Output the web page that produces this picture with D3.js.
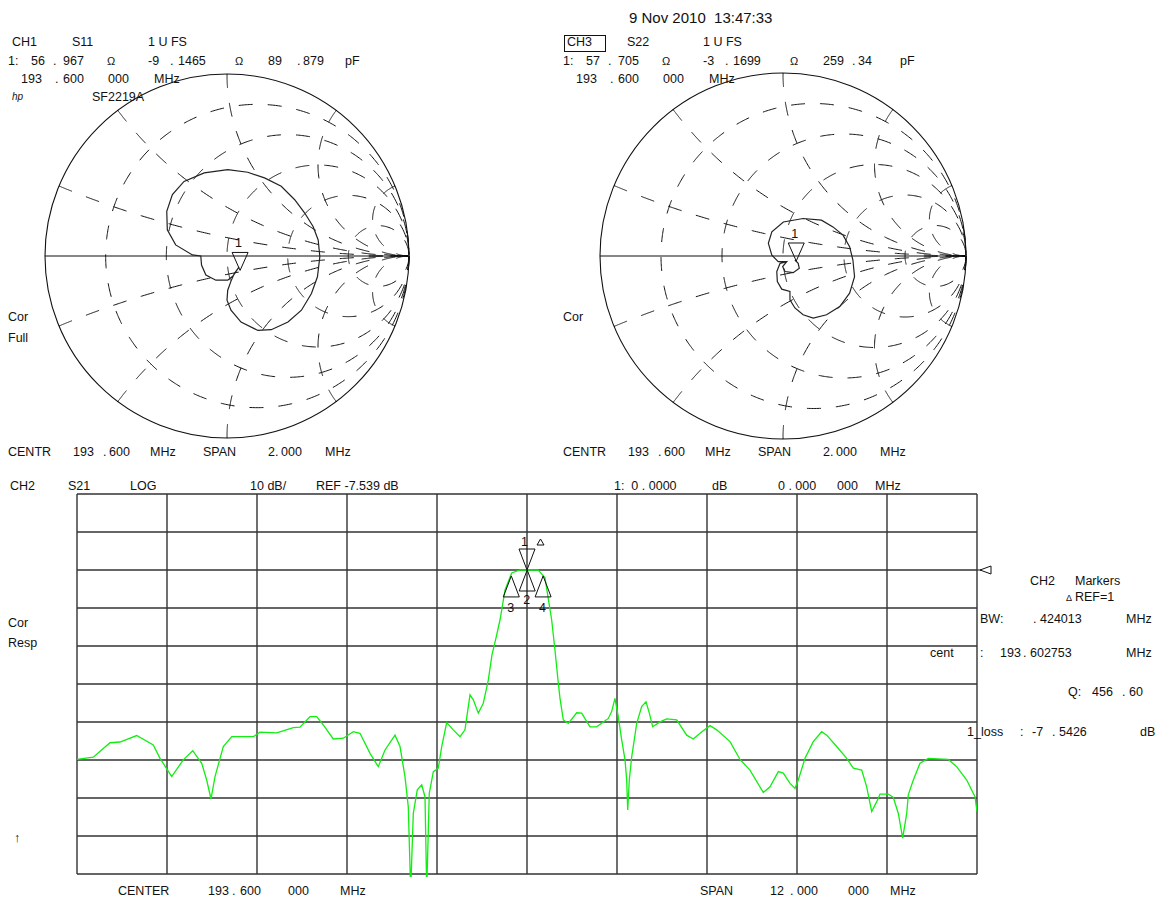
<!DOCTYPE html>
<html><head><meta charset="utf-8">
<script src="https://cdn.jsdelivr.net/npm/d3@7"></script>
<style>
body{margin:0;background:#fff;}
svg text{font-family:"Liberation Sans",Arial,sans-serif;font-size:12.5px;fill:#111;white-space:pre;}
</style></head><body>
<svg id="c" width="1160" height="901"></svg>
<script>
// ---------------- DATA ----------------
// CH2 S21 log magnitude trace
const freqMHz = [187.600,187.817,188.040,188.173,188.396,188.617,188.707,188.863,189.017,189.143,
189.263,189.329,189.387,189.440,189.551,189.663,189.951,190.040,190.263,190.484,
190.573,190.707,190.796,190.884,191.017,191.151,191.284,191.373,191.507,191.617,
191.707,191.840,191.907,191.973,192.017,192.049,192.084,192.137,192.196,192.240,
192.263,192.297,192.351,192.417,192.463,192.529,192.617,192.707,192.773,192.840,
192.884,192.951,193.017,193.084,193.133,193.187,193.240,193.307,193.396,193.507,
193.600,193.747,193.840,193.880,193.929,193.973,194.013,194.040,194.084,194.151,
194.263,194.329,194.440,194.529,194.684,194.729,194.773,194.817,194.863,194.907,
194.929,194.943,194.964,194.996,195.063,195.129,195.187,195.231,195.276,195.373,
195.463,195.596,195.729,195.817,195.907,196.040,196.129,196.307,196.440,196.573,
196.751,196.840,196.951,197.017,197.107,197.173,197.217,197.307,197.417,197.529,
197.596,197.729,197.863,197.951,198.063,198.129,198.196,198.263,198.307,198.417,
198.484,198.551,198.609,198.663,198.684,198.751,198.840,198.951,199.217,199.329,
199.463,199.573,199.600];
const s21dB = [-57.4,-56.8,-53.0,-52.8,-51.1,-53.6,-57.1,-61.9,-57.5,-55.1,
-58.4,-62.8,-67.8,-61.9,-54.0,-51.4,-51.4,-50.2,-50.4,-49.0,
-48.9,-46.1,-46.1,-48.3,-52.0,-51.8,-50.1,-50.5,-55.8,-59.3,
-54.9,-51.0,-54.0,-61.9,-69.8,-92.0,-71.6,-65.4,-64.1,-67.2,
-92.0,-66.3,-60.6,-59.7,-54.0,-47.7,-49.6,-51.4,-49.6,-40.4,
-41.7,-45.2,-42.6,-36.5,-29.9,-25.4,-20.7,-12.8,-8.3,-7.5,
-7.54,-7.5,-9.6,-14.6,-20.7,-28.6,-36.5,-41.3,-47.0,-47.9,
-45.1,-45.2,-48.8,-48.8,-46.6,-44.8,-41.3,-46.1,-52.3,-57.5,
-62.8,-70.7,-62.8,-56.7,-47.9,-43.5,-42.2,-45.2,-48.8,-47.5,
-46.7,-47.0,-51.0,-52.0,-50.5,-48.5,-49.6,-52.7,-57.4,-60.2,
-66.1,-64.6,-60.6,-61.0,-63.7,-65.0,-62.8,-57.1,-52.7,-50.1,
-51.0,-54.0,-57.1,-59.7,-60.2,-64.6,-71.1,-68.5,-66.5,-66.5,
-67.4,-71.6,-78.1,-71.6,-66.7,-62.8,-58.4,-57.1,-57.4,-59.3,
-62.8,-67.2,-71.1];
const centerMHz = 193.6, spanMHz = 12, refDB = -7.539, dbPerDiv = 10, refDiv = 2;
// S21 markers
const s21MarkerIds = [1, 2, 3, 4];
const s21MarkerFreq = [193.600, 193.602753, 193.390747, 193.814760];
const s21MarkerDB = [-7.539, -7.539, -9.1, -9.1];
const s21MarkerDown = [true, false, false, false];

// CH1 S11 reflection coefficient trace (real, imag)
const s11Re = [0.066,0.040,0.022,0.004,0.000,0.022,0.077,0.170,0.243,0.335,0.409,0.464,0.497,0.510,0.501,0.473,0.427,0.372,0.298,0.206,0.114,0.004,-0.125,-0.236,-0.300,-0.331,-0.328,-0.282,-0.190,-0.144,-0.140,-0.116,-0.061,0.004,0.033,0.055,0.066];
const s11Im = [-0.061,-0.096,-0.138,-0.188,-0.243,-0.298,-0.363,-0.409,-0.405,-0.363,-0.298,-0.206,-0.114,-0.004,0.088,0.162,0.236,0.309,0.383,0.429,0.460,0.475,0.457,0.410,0.337,0.245,0.144,0.061,0.006,0.000,-0.050,-0.105,-0.133,-0.133,-0.110,-0.077,-0.061];
// CH3 S22 reflection coefficient trace
const s22Re = [0.065,0.083,0.089,0.056,0.011,-0.002,0.020,-0.016,-0.034,-0.031,-0.007,0.038,0.038,0.065,0.110,0.165,0.238,0.310,0.364,0.391,0.382,0.364,0.328,0.273,0.210,0.110,0.002,-0.061,-0.080,-0.061,-0.026,0.020];
const s22Im = [-0.022,-0.040,-0.067,-0.091,-0.085,-0.058,-0.031,-0.040,-0.085,-0.140,-0.181,-0.194,-0.239,-0.284,-0.321,-0.339,-0.321,-0.276,-0.203,-0.113,-0.022,0.051,0.114,0.159,0.196,0.205,0.186,0.132,0.069,0.005,-0.031,-0.031];
const z0 = 50;
const s11MarkerZ = [56.967, -9.1465];
const s22MarkerZ = [57.705, -3.1699];
const smithR = [0.2, 0.5, 1, 2, 5];
const smithX = [0.2, 0.5, 1, 2, 5, -0.2, -0.5, -1, -2, -5];

// ---------------- DRAW ----------------
const svg = d3.select("#c");
function txt(x, y, s, o) {
  o = o || {};
  const t = svg.append("text").attr("x", x).attr("y", y).text(s);
  if (o.size) t.style("font-size", o.size + "px");
  if (o.italic) t.style("font-style", "italic");
  if (o.anchor) t.attr("text-anchor", o.anchor);
  return t;
}
function gamma(r, x) {
  const d = (r + 1) * (r + 1) + x * x;
  return [(r * r + x * x - 1) / d, 2 * x / d];
}

function smith(cx, cy, R, re, im, mz) {
  const sx = d3.scaleLinear().domain([-1, 1]).range([cx - R, cx + R]);
  const sy = d3.scaleLinear().domain([-1, 1]).range([cy + R, cy - R]);
  const line = d3.line().x(d => sx(d[0])).y(d => sy(d[1]));
  const g = svg.append("g");
  g.append("circle").attr("cx", sx(0)).attr("cy", sy(0)).attr("r", sx(1) - sx(0))
    .attr("fill", "none").attr("stroke", "#111").attr("stroke-width", 1.1);
  g.append("line").attr("x1", sx(-1)).attr("x2", sx(1)).attr("y1", sy(0)).attr("y2", sy(0))
    .attr("stroke", "#111").attr("stroke-width", 1.1);
  smithR.forEach(r => {
    const pts = d3.range(-1.5705, 1.5706, 0.005).map(t => gamma(r, Math.tan(t)));
    g.append("path").attr("d", line(pts)).attr("fill", "none").attr("stroke", "#111")
      .attr("stroke-width", 1).attr("stroke-dasharray", "14,15");
  });
  smithX.forEach(x => {
    const pts = [gamma(0, x)].concat(d3.range(-3, 2.5, 0.01).map(e => gamma(Math.pow(10, e), x)));
    g.append("path").attr("d", line(pts)).attr("fill", "none").attr("stroke", "#111")
      .attr("stroke-width", 1).attr("stroke-dasharray", "14,15");
  });
  const tr = re.map((v, i) => [v, im[i]]);
  g.append("path").attr("d", line(tr)).attr("fill", "none").attr("stroke", "#222").attr("stroke-width", 1.2);
  const m = gamma(mz[0] / z0, mz[1] / z0);
  const mx = sx(m[0]), my = sy(m[1]);
  g.append("path").attr("d", `M${mx},${my} L${mx - 8},${my - 18} L${mx + 8},${my - 18} Z`)
    .attr("fill", "none").attr("stroke", "#111").attr("stroke-width", 1);
  txt(mx - 5, my - 23, "1");
}
smith(227, 256, 182, s11Re, s11Im, s11MarkerZ);
smith(783, 256, 183, s22Re, s22Im, s22MarkerZ);

// header texts
txt(629, 23, "9 Nov 2010  13:47:33", {size: 15});
const OM = "\u03A9";
[[0, ["CH1", "S11", "1 U FS"], ["56", "967", "-9", "1465", "89", "879"]],
 [555, ["CH3", "S22", "1 U FS"], ["57", "705", "-3", "1699", "259", "34"]]].forEach(([o, r1, v]) => {
  txt(12 + o, 46, r1[0]); txt(72 + o, 46, r1[1]); txt(148 + o, 46, r1[2]);
  txt(8 + o, 65, "1:"); txt(31 + o, 65, v[0]); txt(53 + o, 65, "."); txt(63 + o, 65, v[1]);
  txt(107 + o, 65, OM, {size: 11});
  txt(148 + o, 65, v[2]); txt(170 + o, 65, "."); txt(178 + o, 65, v[3]);
  txt(235 + o, 65, OM, {size: 11});
  txt(268 + o, 65, v[4]); txt(297 + o, 65, "."); txt(303 + o, 65, v[5]);
  txt(345 + o, 65, "pF");
  txt(21 + o, 83, "193"); txt(55 + o, 83, "."); txt(63 + o, 83, "600"); txt(108 + o, 83, "000"); txt(154 + o, 83, "MHz");
  txt(8 + o, 456, "CENTR"); txt(73 + o, 456, "193"); txt(103 + o, 456, "."); txt(109 + o, 456, "600");
  txt(150 + o, 456, "MHz"); txt(203 + o, 456, "SPAN"); txt(268 + o, 456, "2."); txt(281 + o, 456, "000"); txt(325 + o, 456, "MHz");
  txt(8 + o, 321, "Cor");
});
svg.append("rect").attr("x", 564.5).attr("y", 35.5).attr("width", 41).attr("height", 16)
  .attr("fill", "none").attr("stroke", "#111");
txt(12, 100, "hp", {size: 10, italic: true});
txt(92, 101, "SF2219A");
txt(8, 342, "Full");

// ---------------- S21 LOG MAG ----------------
const x = d3.scaleLinear().domain([centerMHz - spanMHz / 2, centerMHz + spanMHz / 2]).range([77, 977]);
const topDB = refDB + refDiv * dbPerDiv;
const y = d3.scaleLinear().domain([topDB - 10 * dbPerDiv, topDB]).range([874, 494]);
const vt = d3.range(0, 11).map(i => x.domain()[0] + i * spanMHz / 10);
const ht = d3.range(0, 11).map(i => topDB - i * dbPerDiv);
const gg = svg.append("g");
gg.selectAll("line.v").data(vt).enter().append("line")
  .attr("x1", d => x(d)).attr("x2", d => x(d)).attr("y1", y(topDB)).attr("y2", y(topDB - 100))
  .attr("stroke", "#333").attr("stroke-width", 1.4);
gg.selectAll("line.h").data(ht).enter().append("line")
  .attr("x1", x.range()[0]).attr("x2", x.range()[1]).attr("y1", d => y(d)).attr("y2", d => y(d))
  .attr("stroke", "#333").attr("stroke-width", 1.4);
gg.append("line").attr("x1", x.range()[1]).attr("x2", x.range()[1] + 4).attr("y1", y(refDB)).attr("y2", y(refDB))
  .attr("stroke", "#333").attr("stroke-width", 1.2);
gg.append("path").attr("d", `M${x.range()[1] + 3},${y(refDB)} L${x.range()[1] + 14},${y(refDB) - 4} L${x.range()[1] + 14},${y(refDB) + 4} Z`)
  .attr("fill", "#fff").attr("stroke", "#111").attr("stroke-width", 1);

svg.append("clipPath").attr("id", "pc").append("rect").attr("x", 77).attr("y", 494).attr("width", 900).attr("height", 383);
svg.append("path").attr("clip-path", "url(#pc)")
  .attr("d", d3.line().x((d, i) => x(freqMHz[i])).y(d => y(d))(s21dB))
  .attr("fill", "none").attr("stroke", "#11ee11").attr("stroke-width", 1.3);

s21MarkerIds.forEach((id, i) => {
  const mx = x(s21MarkerFreq[i]), my = y(s21MarkerDB[i]);
  if (s21MarkerDown[i]) {
    svg.append("path").attr("d", `M${mx},${my} L${mx - 8},${my - 21} L${mx + 8},${my - 21} Z`)
      .attr("fill", "none").attr("stroke", "#111").attr("stroke-width", 1);
    txt(mx - 6, my - 24, String(id));
    svg.append("path").attr("d", `M${mx + 10},${my - 25} L${mx + 13.5},${my - 31} L${mx + 17},${my - 25} Z`)
      .attr("fill", "none").attr("stroke", "#111").attr("stroke-width", 1);
  } else {
    svg.append("path").attr("d", `M${mx},${my} L${mx - 8},${my + 21} L${mx + 8},${my + 21} Z`)
      .attr("fill", "none").attr("stroke", "#111").attr("stroke-width", 1);
    txt(mx - 4, my + (id === 2 ? 34 : 36), String(id));
  }
});

txt(10, 490, "CH2"); txt(68, 490, "S21"); txt(130, 490, "LOG");
txt(250, 490, "10 dB/"); txt(316, 490, "REF -7.539 dB");
txt(614, 490, "1:  0 . 0000"); txt(712, 490, "dB"); txt(778, 490, "0 . 000"); txt(837, 490, "000"); txt(875, 490, "MHz");
txt(8, 627, "Cor"); txt(8, 647, "Resp"); txt(14, 842, "\u2191");
txt(118, 895, "CENTER"); txt(208, 895, "193"); txt(232, 895, "."); txt(240, 895, "600"); txt(288, 895, "000"); txt(340, 895, "MHz");
txt(700, 895, "SPAN"); txt(770, 895, "12"); txt(790, 895, "."); txt(797, 895, "000"); txt(848, 895, "000"); txt(890, 895, "MHz");
txt(1030, 585, "CH2"); txt(1075, 585, "Markers");
txt(1066, 601, "\u0394", {size: 9}); txt(1075, 601, "REF=1");
txt(980, 623, "BW:"); txt(1033, 623, "."); txt(1040, 623, "424013"); txt(1126, 623, "MHz");
txt(930, 657, "cent"); txt(980, 657, ":"); txt(1000, 657, "193"); txt(1023, 657, "."); txt(1030, 657, "602753"); txt(1126, 657, "MHz");
txt(1068, 696, "Q:"); txt(1092, 696, "456"); txt(1122, 696, "."); txt(1129, 696, "60");
txt(967, 736, "1_loss"); txt(1020, 736, ":"); txt(1032, 736, "-7"); txt(1052, 736, "."); txt(1059, 736, "5426"); txt(1140, 736, "dB");
</script></body></html>
